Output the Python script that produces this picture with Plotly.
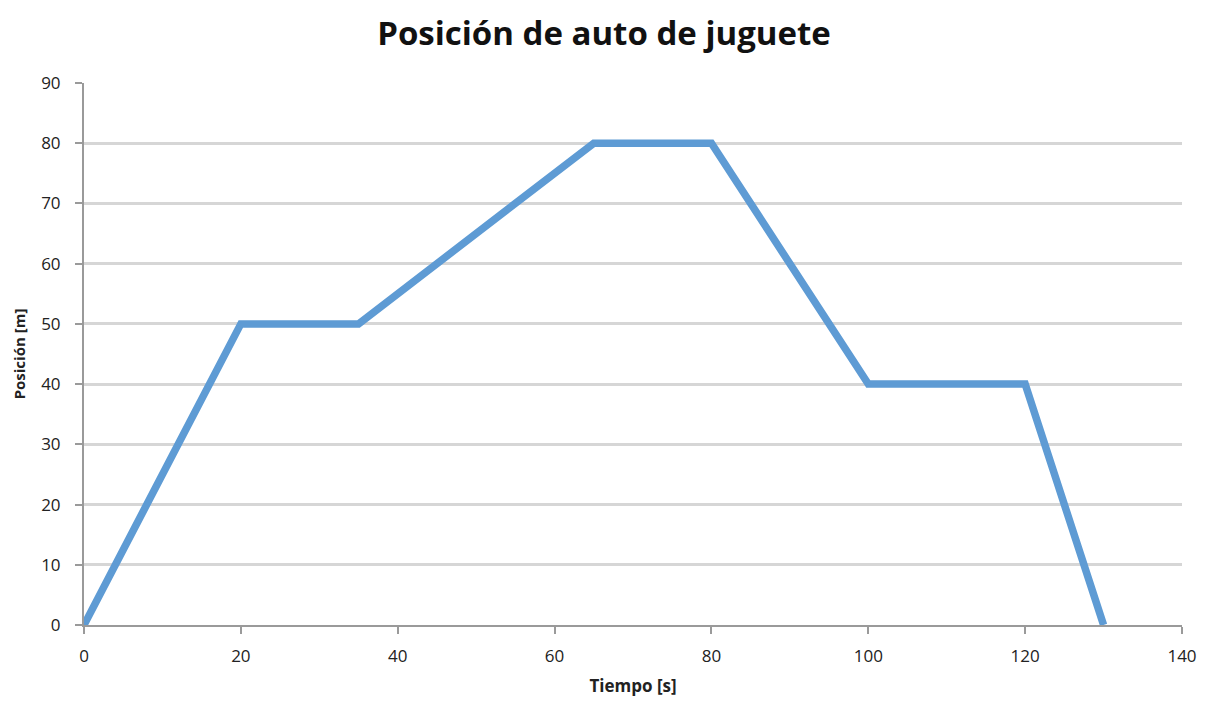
import plotly.graph_objects as go

# Toy car position over time
tiempo = [0, 20, 35, 65, 80, 100, 120, 130]
posicion = [0, 50, 50, 80, 80, 40, 40, 0]

x_ticks = [0, 20, 40, 60, 80, 100, 120, 140]
y_ticks = [0, 10, 20, 30, 40, 50, 60, 70, 80, 90]

FONT = "Open Sans, Liberation Sans, sans-serif"

fig = go.Figure()
fig.add_trace(go.Scatter(
    x=tiempo, y=posicion, mode="lines",
    line=dict(color="#5e9bd4", width=7.5),
    hoverinfo="x+y",
))

tick_font = dict(family=FONT, size=17, color="#222222")

fig.update_layout(
    width=1208, height=704,
    margin=dict(l=84, r=26, t=83, b=79),
    paper_bgcolor="white", plot_bgcolor="white",
    showlegend=False,
    title=dict(
        text="<b>Posición de auto de juguete</b>",
        x=0.5, xanchor="center", y=0.953, yanchor="middle",
        font=dict(family=FONT, size=33, color="#111111"),
    ),
    xaxis=dict(
        range=[0, 140], tickvals=x_ticks, ticktext=[str(v) for v in x_ticks],
        showgrid=False, zeroline=False, automargin=False,
        showline=True, linecolor="#9a9a9a", linewidth=2,
        ticks="outside", ticklen=7, tickcolor="#9a9a9a", tickwidth=2,
        ticklabelstandoff=8,
        tickfont=tick_font,
        title=dict(text="<b>Tiempo [s]</b>", font=dict(family=FONT, size=17, color="#222222"), standoff=14),
    ),
    yaxis=dict(
        range=[0, 90], tickvals=y_ticks, ticktext=[str(v) for v in y_ticks],
        showgrid=True, gridcolor="#d6d6d6", gridwidth=3,
        zeroline=False, automargin=False,
        showline=True, linecolor="#9a9a9a", linewidth=2,
        ticks="outside", ticklen=7, tickcolor="#9a9a9a", tickwidth=2,
        ticklabelstandoff=11,
        tickfont=tick_font,
        title=dict(text="<b>Posición [m]</b>", font=dict(family=FONT, size=15, color="#222222"), standoff=12),
    ),
)

fig.write_html("out.html")
